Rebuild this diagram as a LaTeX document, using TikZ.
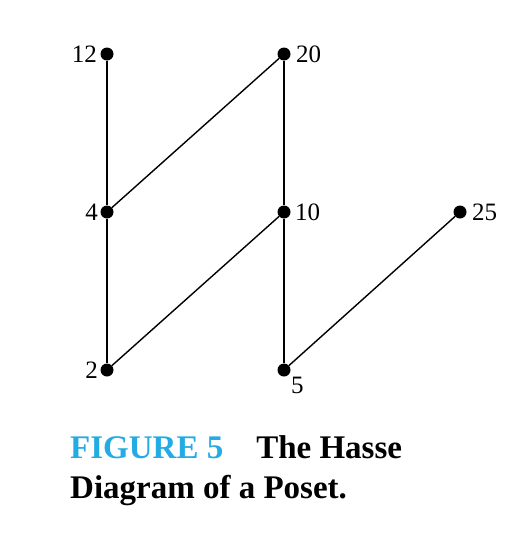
\documentclass[tikz,border=0pt]{standalone}
\usepackage{fontspec}
\setmainfont{Liberation Serif}
\definecolor{figcyan}{RGB}{35,172,228}
\begin{document}
\begin{tikzpicture}[x=1pt,y=-1pt,
  vtx/.style={circle,fill=black,inner sep=0pt,minimum size=13pt},
  lbl/.style={font=\fontsize{25}{30}\selectfont,inner sep=0pt},
  edge/.style={line width=1.4pt}]
\useasboundingbox (0,0) rectangle (532,560);
\node[vtx] (n12) at (107,54) {};
\node[vtx] (n20) at (284,54) {};
\node[vtx] (n4) at (107,212) {};
\node[vtx] (n10) at (284,212) {};
\node[vtx] (n25) at (460,212) {};
\node[vtx] (n2) at (107,370) {};
\node[vtx] (n5) at (284,370) {};
\draw[edge] (n12) -- (n4);
\draw[edge] (n4) -- (n2);
\draw[edge] (n4) -- (n20);
\draw[edge] (n20) -- (n10);
\draw[edge] (n10) -- (n5);
\draw[edge] (n2) -- (n10);
\draw[edge] (n5) -- (n25);
\node[lbl,anchor=east] (l12) at (97,54) {12};
\node[lbl,anchor=west] (l20) at (296,54) {20};
\node[lbl,anchor=east] (l4) at (98,212) {4};
\node[lbl,anchor=west] (l10) at (295,212) {10};
\node[lbl,anchor=west] (l25) at (472,212) {25};
\node[lbl,anchor=east] (l2) at (98,370) {2};
\node[lbl,anchor=west] (l5) at (291,385) {5};
\node[anchor=base west,inner sep=0pt,font=\fontsize{33}{40}\selectfont\bfseries,align=left] (cap) at (70,498)
  {\textcolor{figcyan}{FIGURE 5}\quad The Hasse\\Diagram of a Poset.};
\end{tikzpicture}
\end{document}
